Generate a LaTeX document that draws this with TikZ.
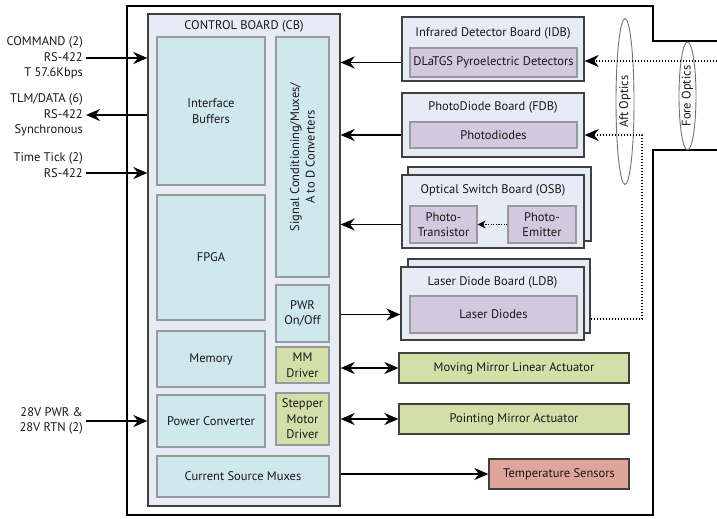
\documentclass[tikz,border=0pt]{standalone}
\usepackage{fontspec}
\setmainfont{PT Sans}
\usetikzlibrary{shapes.geometric,arrows.meta}
\definecolor{cbfill}{HTML}{E6ECF6}
\definecolor{blk}{HTML}{CFE8EE}
\definecolor{purp}{HTML}{D4C8DF}
\definecolor{grn}{HTML}{D3DFA8}
\definecolor{rd}{HTML}{DFA59B}
\definecolor{txt}{HTML}{1A1718}
\tikzset{
  board/.style={draw=black!75, fill=cbfill, line width=1.3pt, inner sep=0pt},
  inner/.style={draw=black!40, fill=blk, line width=1.2pt, inner sep=0pt, align=center, text=txt},
  subb/.style={draw=black!40, fill=purp, line width=1.2pt, inner sep=0pt, align=center, text=txt},
  act/.style={draw=black!75, fill=#1, line width=1.2pt, inner sep=0pt, align=center, text=txt},
  arr/.style={line width=1.7pt, -{Stealth[length=14pt,width=12pt,inset=4.5pt]}},
  darr/.style={line width=1.7pt, {Stealth[length=14pt,width=12pt,inset=4.5pt]}-{Stealth[length=14pt,width=12pt,inset=4.5pt]}},
  dots/.style={line width=1.5pt, dash pattern=on 1.5pt off 1.5pt},
  lbl/.style={inner sep=0pt, align=right, text=txt},
  optic/.style={draw=black!55, line width=0.9pt, ellipse, inner sep=0pt, rotate=90, text=txt}
}
\begin{document}
\begin{tikzpicture}[x=1pt,y=-1pt,font=\fontsize{12.5}{15.5}\selectfont]
\useasboundingbox (0,0) rectangle (717,519);
% outer frame
\draw[line width=2.2pt] (717,40.7) -- (653,40.7) -- (653,6) -- (127,6) -- (127,515) -- (653,515) -- (653,150) -- (717,150);
% control board
\node[board, minimum width=192pt, minimum height=492pt] (cb) at (244,260) {};
\node[inner sep=0pt, text=txt] (cbt) at (244,26) {CONTROL BOARD (CB)};
\node[inner, minimum width=108pt, minimum height=148pt] (ib) at (211,111) {Interface\\Buffers};
\node[inner, rotate=90, minimum width=240pt, minimum height=53pt] (sc) at (302.5,157) {Signal Conditioning/Muxes/\\A to D Converters};
\node[inner, minimum width=108pt, minimum height=125pt] (fpga) at (211,257.5) {FPGA};
\node[inner, minimum width=53pt, minimum height=57pt] (pwr) at (302.5,313.5) {PWR\\On/Off};
\node[inner, minimum width=108pt, minimum height=56pt] (mem) at (211,359) {Memory};
\node[inner, fill=grn, minimum width=53pt, minimum height=36pt] (mmd) at (302.5,365) {MM\\Driver};
\node[inner, minimum width=108pt, minimum height=52pt] (pc) at (211,421) {Power Converter};
\node[inner, fill=grn, minimum width=53pt, minimum height=52pt] (smd) at (302.5,419) {Stepper\\Motor\\Driver};
\node[inner, minimum width=172pt, minimum height=41pt] (csm) at (243,476.5) {Current Source Muxes};
% boards
\node[board, minimum width=182pt, minimum height=64pt] (idb) at (493,49) {};
\node[inner sep=0pt, text=txt] (idbt) at (493,33) {Infrared Detector Board (IDB)};
\node[subb, minimum width=167pt, minimum height=29pt] (det) at (493.5,62.5) {DLaTGS Pyroelectric Detectors};
\node[board, minimum width=182pt, minimum height=64pt] (fdb) at (493,125) {};
\node[inner sep=0pt, text=txt] (fdbt) at (493,107) {PhotoDiode Board (FDB)};
\node[subb, minimum width=167pt, minimum height=26pt] (pd) at (493.5,135) {Photodiodes};
\node[board, minimum width=183pt, minimum height=74pt] (osbb) at (499.5,204) {};
\node[board, minimum width=182pt, minimum height=73pt] (osb) at (493,211.5) {};
\node[inner sep=0pt, text=txt] (osbt) at (493,190) {Optical Switch Board (OSB)};
\node[subb, minimum width=67pt, minimum height=37pt] (pt) at (443.5,224.5) {Photo-\\Transistor};
\node[subb, minimum width=68pt, minimum height=37pt] (pe) at (542,224.5) {Photo-\\Emitter};
\node[board, minimum width=182pt, minimum height=74pt] (ldbb) at (499,296) {};
\node[board, minimum width=183pt, minimum height=73pt] (ldb) at (492.5,303.5) {};
\node[inner sep=0pt, text=txt] (ldbt) at (492.5,282) {Laser Diode Board (LDB)};
\node[subb, minimum width=167pt, minimum height=37pt] (ld) at (493.5,314.5) {Laser Diodes};
\node[act=grn, minimum width=230pt, minimum height=30pt] (mmla) at (514,368) {Moving Mirror Linear Actuator};
\node[act=grn, minimum width=230pt, minimum height=30pt] (pma) at (514,419) {Pointing Mirror Actuator};
\node[act=rd, minimum width=140pt, minimum height=30pt] (ts) at (559,474) {Temperature Sensors};
% optics
\node[optic, minimum width=166pt, minimum height=18pt] (aft) at (625,101.5) {Aft Optics};
\node[optic, minimum width=108pt, minimum height=17pt] (fore) at (687.5,96) {Fore Optics};
% external labels
\node[lbl, anchor=east] (cmd) at (83,58) {COMMAND (2)\\RS-422\\T 57.6Kbps};
\node[lbl, anchor=east] (tlm) at (83,115) {TLM/DATA (6)\\RS-422\\Synchronous};
\node[lbl, anchor=east] (tt) at (83,165) {Time Tick (2)\\RS-422};
\node[lbl, anchor=east] (pw) at (83,421) {28V PWR \&\\28V RTN (2)};
\coordinate (cmdE) at (86,58);
\coordinate (tlmE) at (86,115);
\coordinate (ttE) at (86,173);
\coordinate (pwE) at (86,421);
\draw[arr] (cmdE) -- (cmdE -| cb.west);
\draw[arr] (tlmE -| cb.west) -- (tlmE);
\draw[arr] (ttE) -- (ttE -| cb.west);
\draw[arr] (pwE) -- (pwE -| cb.west);
% board connectors
\draw[arr] (idb.west |- det) -- (det -| cb.east);
\draw[arr] (fdb.west |- pd) -- (pd -| cb.east);
\draw[arr] (osb.west |- pt) -- (pt -| cb.east);
\draw[arr] (ld -| cb.east) -- (ld -| ldb.west);
\draw[darr] (mmla -| cb.east) -- (mmla.west);
\draw[darr] (pma -| cb.east) -- (pma.west);
\draw[arr] (ts -| cb.east) -- (ts.west);
% optical paths
\coordinate (inR) at (717,61);
\coordinate (ret) at (642,319);
\draw[dots, -{Stealth[length=14pt,width=12pt,inset=4.5pt]}] (inR) -- (inR -| idb.east);
\draw[dots, -{Stealth[length=14pt,width=12pt,inset=4.5pt]}] (ret -| ldbb.east) -- (ret) |- (pd -| fdb.east);
\draw[line width=1pt, dash pattern=on 1.3pt off 1.3pt, -{Stealth[length=8pt,width=8pt,inset=2.5pt]}] (pe.west) -- (pt.east);
\end{tikzpicture}
\end{document}
